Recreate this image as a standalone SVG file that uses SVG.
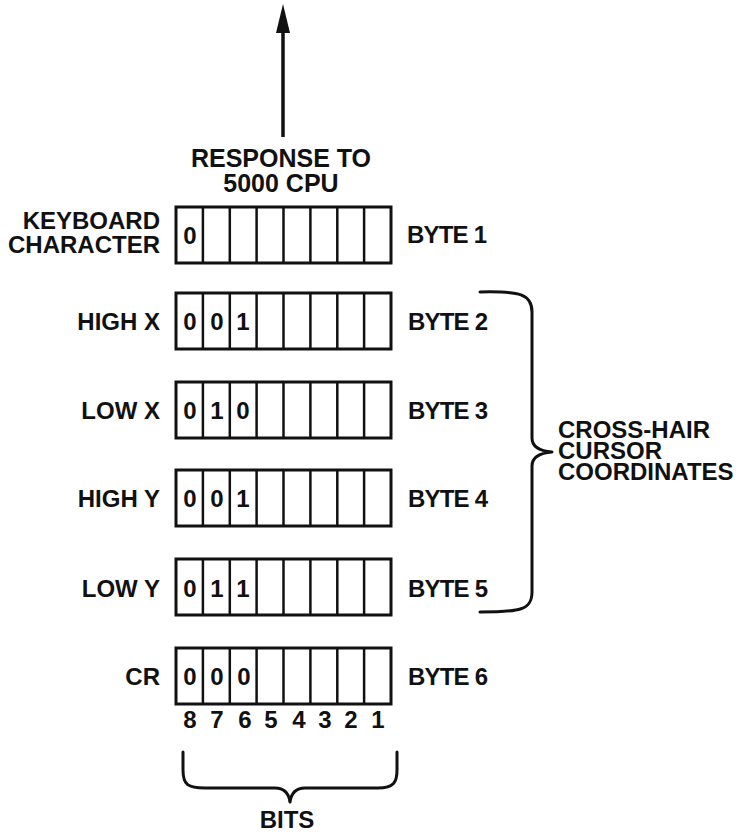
<svg xmlns="http://www.w3.org/2000/svg" width="741" height="834" viewBox="0 0 741 834">
<style>
text{font-family:"Liberation Sans",Arial,Helvetica,sans-serif;font-weight:bold;font-size:24px;fill:#111}
.lbl{text-anchor:end}
.byte{letter-spacing:-0.8px}
.dig{text-anchor:middle}
.box{fill:none;stroke:#111;stroke-width:3}
.div{stroke:#111;stroke-width:2.5}
.br{fill:none;stroke:#111;stroke-width:3;stroke-linejoin:round;stroke-linecap:round}
</style>
<defs>
<g id="cells">
<rect class="box" x="176" y="0" width="215" height="56"/>
<path class="div" d="M202.9,0V56M229.8,0V56M256.6,0V56M283.5,0V56M310.4,0V56M337.3,0V56M364.1,0V56"/>
</g>
</defs>
<rect width="741" height="834" fill="#fff"/>
<g id="connectors">
<line x1="283" y1="137" x2="283" y2="28" stroke="#111" stroke-width="3.5"/>
<polygon points="283,4 276,33 290,33" fill="#111"/>
<path class="br" d="M480,292 C520,291 532,294 532,312 L532,438 C532,447 540,451 552,452 C540,453 532,457 532,466 L532,592 C532,610 520,612 480,612"/>
<path class="br" d="M183,752 L183,770 C183,785 188,788 205,788 L275,788 C285,788 289,795 290,802 C291,795 295,788 305,788 L378,788 C394,788 397,782 397,770 L397,752"/>
</g>
<g id="title">
<text x="281" y="167" text-anchor="middle" style="font-size:25px">RESPONSE TO<tspan x="281" dy="25">5000 CPU</tspan></text>
</g>
<g id="byte1">
<use href="#cells" y="207"/>
<text class="lbl" x="160" y="229">KEYBOARD<tspan x="160" dy="24">CHARACTER</tspan></text>
<text class="dig" x="190" y="244">0</text>
<text class="byte" x="407" y="243">BYTE 1</text>
</g>
<g id="byte2">
<use href="#cells" y="293"/>
<text class="lbl" x="160" y="330">HIGH X</text>
<text class="dig" x="190" y="330">0</text>
<text class="dig" x="217" y="330">0</text>
<text class="dig" x="243" y="330">1</text>
<text class="byte" x="408" y="330">BYTE 2</text>
</g>
<g id="byte3">
<use href="#cells" y="382"/>
<text class="lbl" x="160" y="419">LOW X</text>
<text class="dig" x="190" y="419">0</text>
<text class="dig" x="217" y="419">1</text>
<text class="dig" x="243" y="419">0</text>
<text class="byte" x="408" y="419">BYTE 3</text>
</g>
<g id="byte4">
<use href="#cells" y="470"/>
<text class="lbl" x="160" y="507">HIGH Y</text>
<text class="dig" x="190" y="507">0</text>
<text class="dig" x="217" y="507">0</text>
<text class="dig" x="243" y="507">1</text>
<text class="byte" x="408" y="507">BYTE 4</text>
</g>
<g id="byte5">
<use href="#cells" y="559"/>
<text class="lbl" x="160" y="597">LOW Y</text>
<text class="dig" x="190" y="597">0</text>
<text class="dig" x="217" y="597">1</text>
<text class="dig" x="243" y="597">1</text>
<text class="byte" x="408" y="597">BYTE 5</text>
</g>
<g id="byte6">
<use href="#cells" y="648"/>
<text class="lbl" x="160" y="685">CR</text>
<text class="dig" x="190" y="685">0</text>
<text class="dig" x="217" y="685">0</text>
<text class="dig" x="244" y="685">0</text>
<text class="byte" x="408" y="685">BYTE 6</text>
</g>
<g id="bitnums">
<text class="dig" x="190" y="728">8</text>
<text class="dig" x="217" y="728">7</text>
<text class="dig" x="245" y="728">6</text>
<text class="dig" x="271" y="728">5</text>
<text class="dig" x="299" y="728">4</text>
<text class="dig" x="325" y="728">3</text>
<text class="dig" x="351" y="728">2</text>
<text class="dig" x="378" y="728">1</text>
</g>
<g id="bits-label">
<text class="dig" x="287" y="828">BITS</text>
</g>
<g id="cursor-label">
<text x="558" y="438">CROSS-HAIR<tspan x="558" dy="21">CURSOR</tspan><tspan x="558" dy="21">COORDINATES</tspan></text>
</g>
</svg>
